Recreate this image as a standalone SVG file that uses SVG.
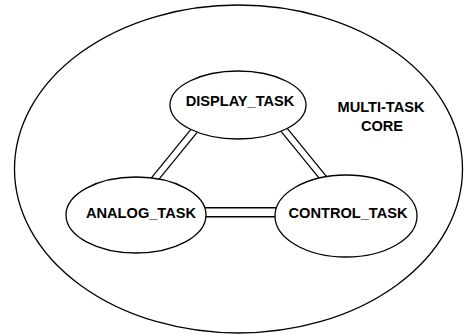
<svg xmlns="http://www.w3.org/2000/svg" width="464" height="336" viewBox="0 0 464 336">
  <style>
    .shape { fill: #fff; stroke: #000; stroke-width: 1.3; }
    .label { font-family: "Liberation Sans", Arial, sans-serif; font-weight: bold; font-size: 14.6px; fill: #000; text-anchor: middle; }
    .rail { fill: none; stroke: #000; stroke-linecap: butt; }
    .gap { fill: none; stroke: #fff; stroke-linecap: butt; }
  </style>
  <rect width="464" height="336" fill="#fff"/>

  <g id="core">
    <ellipse class="shape" cx="238.5" cy="169" rx="224" ry="164"/>
    <text class="label" x="381" y="112">MULTI-TASK</text>
    <text class="label" x="382" y="131">CORE</text>
  </g>

  <!-- double-line links between tasks -->
  <g id="connectors">
    <line class="rail" x1="198" y1="126" x2="154" y2="180" stroke-width="8"/>
    <line class="gap" x1="198" y1="126" x2="154" y2="180" stroke-width="5.5"/>
    <line class="rail" x1="281" y1="126" x2="325" y2="180" stroke-width="8"/>
    <line class="gap" x1="281" y1="126" x2="325" y2="180" stroke-width="5.5"/>
    <line class="rail" x1="200" y1="212.2" x2="284" y2="212.2" stroke-width="10.5"/>
    <line class="gap" x1="200" y1="212.2" x2="284" y2="212.2" stroke-width="7.5"/>
  </g>

  <g id="display_task">
    <ellipse class="shape" cx="238" cy="105" rx="68" ry="34"/>
    <text class="label" x="240" y="106">DISPLAY_TASK</text>
  </g>

  <g id="analog_task">
    <ellipse class="shape" cx="136" cy="215" rx="70" ry="38"/>
    <text class="label" x="141" y="218">ANALOG_TASK</text>
  </g>

  <g id="control_task">
    <ellipse class="shape" cx="346" cy="216" rx="71" ry="41"/>
    <text class="label" x="348" y="218">CONTROL_TASK</text>
  </g>
</svg>
